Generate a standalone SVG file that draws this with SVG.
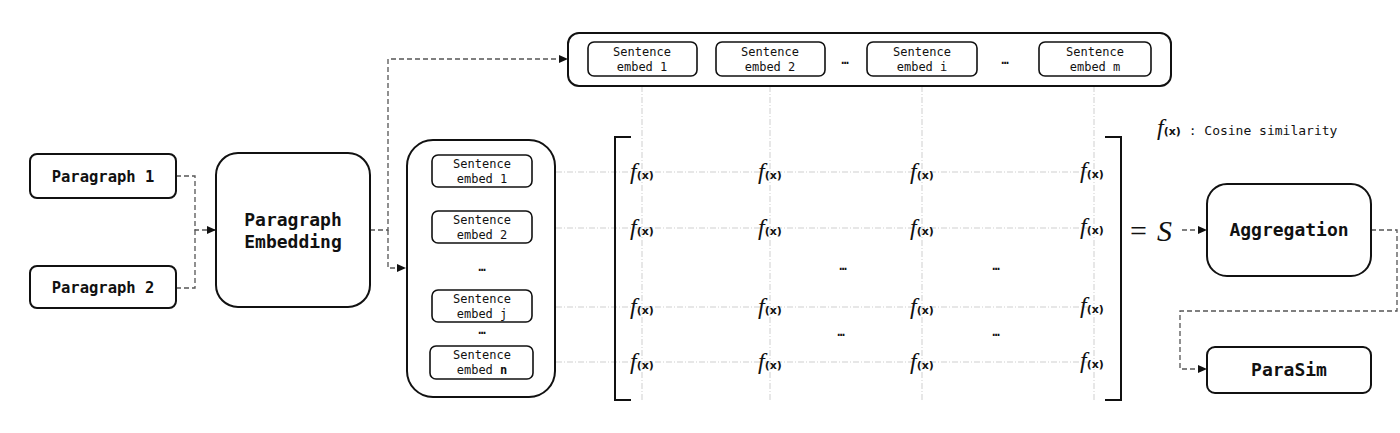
<svg xmlns="http://www.w3.org/2000/svg" width="1400" height="433" viewBox="0 0 1400 433">
<style>
.box{fill:#fff;stroke:#111;stroke-width:2}
.ibox{fill:#fff;stroke:#111;stroke-width:1.6}
.big{font-family:"DejaVu Sans Mono",monospace;font-weight:bold;font-size:18px;fill:#111;text-anchor:middle}
.mid{font-family:"DejaVu Sans Mono",monospace;font-weight:bold;font-size:15.5px;fill:#111;text-anchor:middle}
.sm{font-family:"DejaVu Sans Mono",monospace;font-size:12px;fill:#111;text-anchor:middle}
.dots{font-family:"DejaVu Sans Mono",monospace;font-size:12px;fill:#111;text-anchor:middle;font-weight:bold}
.conn{fill:none;stroke:#555;stroke-width:1.3;stroke-dasharray:5 3}
.grid{fill:none;stroke:#cfcfcf;stroke-width:1;stroke-dasharray:6 2 1 2}
.fi{font-family:"Liberation Serif",serif;font-style:italic;font-size:24px;fill:#111}
.fx{font-family:"DejaVu Sans",sans-serif;font-weight:bold;font-size:11px;fill:#111}
.fm{text-anchor:middle}
.brk{fill:none;stroke:#111;stroke-width:2}
.leg{font-family:"DejaVu Sans Mono",monospace;font-size:13px;fill:#111}
.math{font-family:"Liberation Serif",serif;font-size:30px;fill:#111}
</style>
<defs>
<marker id="arr" markerWidth="10" markerHeight="10" refX="9" refY="5" orient="auto" markerUnits="userSpaceOnUse">
<path d="M0,1 L9,5 L0,9 Z" fill="#111"/>
</marker>
</defs>

<g id="grid">
<path class="grid" d="M556,172 H1094 M556,228 H1094 M556,307 H1094 M556,362 H1094"/>
<path class="grid" d="M642,86 V400 M770,86 V400 M922,86 V400 M1094,86 V400"/>
</g>

<g id="connectors">
<path class="conn" d="M176,176 H195 V230 H216" marker-end="url(#arr)"/>
<path class="conn" d="M176,288 H195 V230"/>
<path class="conn" d="M370,230 H388 V59 H568" marker-end="url(#arr)"/>
<path class="conn" d="M388,230 V268 H406" marker-end="url(#arr)"/>
<path class="conn" d="M1182,230 H1207" marker-end="url(#arr)"/>
<path class="conn" d="M1371,230 H1397 V311 H1180 V369 H1207" marker-end="url(#arr)"/>
</g>

<g id="paragraph1">
<rect class="box" x="30" y="154" width="146" height="44" rx="7"/>
<text class="mid" x="103" y="182">Paragraph 1</text>
</g>
<g id="paragraph2">
<rect class="box" x="30" y="266" width="146" height="42" rx="7"/>
<text class="mid" x="103" y="293">Paragraph 2</text>
</g>
<g id="paragraph-embedding">
<rect class="box" x="216" y="153" width="154" height="154" rx="22"/>
<text class="big" x="293" y="226">Paragraph</text>
<text class="big" x="293" y="248">Embedding</text>
</g>

<g id="sentences-j">
<rect class="box" x="407" y="140" width="148" height="257" rx="26"/>
<g id="sj1"><rect class="ibox" x="432" y="155" width="100" height="32" rx="6"/>
<text class="sm" x="482" y="168">Sentence</text><text class="sm" x="482" y="183">embed 1</text></g>
<g id="sj2"><rect class="ibox" x="432" y="211" width="100" height="32" rx="6"/>
<text class="sm" x="482" y="224">Sentence</text><text class="sm" x="482" y="239">embed 2</text></g>
<text class="dots" x="482" y="271">…</text>
<g id="sjj"><rect class="ibox" x="432" y="290" width="100" height="32" rx="6"/>
<text class="sm" x="482" y="303">Sentence</text><text class="sm" x="482" y="318">embed j</text></g>
<text class="dots" x="482" y="334">…</text>
<g id="sjn"><rect class="ibox" x="430" y="346" width="103" height="33" rx="6"/>
<text class="sm" x="482" y="359">Sentence</text><text class="sm" x="482" y="374">embed <tspan font-weight="bold">n</tspan></text></g>
</g>

<g id="sentences-i">
<rect class="box" x="568" y="33" width="603" height="53" rx="11"/>
<g id="si1"><rect class="ibox" x="588" y="42" width="109" height="34" rx="6"/>
<text class="sm" x="642" y="56">Sentence</text><text class="sm" x="642" y="71">embed 1</text></g>
<g id="si2"><rect class="ibox" x="716" y="42" width="109" height="34" rx="6"/>
<text class="sm" x="770" y="56">Sentence</text><text class="sm" x="770" y="71">embed 2</text></g>
<text class="dots" x="845" y="64">…</text>
<g id="sii"><rect class="ibox" x="867" y="42" width="110" height="34" rx="6"/>
<text class="sm" x="922" y="56">Sentence</text><text class="sm" x="922" y="71">embed i</text></g>
<text class="dots" x="1005" y="64">…</text>
<g id="sim"><rect class="ibox" x="1039" y="42" width="112" height="34" rx="6"/>
<text class="sm" x="1095" y="56">Sentence</text><text class="sm" x="1095" y="71">embed m</text></g>
</g>

<g id="matrix">
<path class="brk" d="M631,137 H615 V400 H631"/>
<path class="brk" d="M1105,137 H1121 V400 H1105"/>
<g id="cells">
<text class="fm" x="642" y="179"><tspan class="fi">f</tspan><tspan class="fx">(x)</tspan></text>
<text class="fm" x="770" y="179"><tspan class="fi">f</tspan><tspan class="fx">(x)</tspan></text>
<text class="fm" x="922" y="179"><tspan class="fi">f</tspan><tspan class="fx">(x)</tspan></text>
<text class="fm" x="1092" y="178"><tspan class="fi">f</tspan><tspan class="fx">(x)</tspan></text>
<text class="fm" x="642" y="235"><tspan class="fi">f</tspan><tspan class="fx">(x)</tspan></text>
<text class="fm" x="770" y="235"><tspan class="fi">f</tspan><tspan class="fx">(x)</tspan></text>
<text class="fm" x="922" y="235"><tspan class="fi">f</tspan><tspan class="fx">(x)</tspan></text>
<text class="fm" x="1092" y="234"><tspan class="fi">f</tspan><tspan class="fx">(x)</tspan></text>
<text class="fm" x="642" y="314"><tspan class="fi">f</tspan><tspan class="fx">(x)</tspan></text>
<text class="fm" x="770" y="314"><tspan class="fi">f</tspan><tspan class="fx">(x)</tspan></text>
<text class="fm" x="922" y="314"><tspan class="fi">f</tspan><tspan class="fx">(x)</tspan></text>
<text class="fm" x="1092" y="313"><tspan class="fi">f</tspan><tspan class="fx">(x)</tspan></text>
<text class="fm" x="642" y="369"><tspan class="fi">f</tspan><tspan class="fx">(x)</tspan></text>
<text class="fm" x="770" y="369"><tspan class="fi">f</tspan><tspan class="fx">(x)</tspan></text>
<text class="fm" x="922" y="369"><tspan class="fi">f</tspan><tspan class="fx">(x)</tspan></text>
<text class="fm" x="1092" y="368"><tspan class="fi">f</tspan><tspan class="fx">(x)</tspan></text>
</g>
<text class="dots" x="843" y="270">…</text>
<text class="dots" x="996" y="270">…</text>
<text class="dots" x="841" y="336">…</text>
<text class="dots" x="996" y="336">…</text>
</g>

<g id="legend">
<text x="1157" y="135"><tspan class="fi" font-size="20px">f</tspan><tspan class="fx" font-size="9px">(x)</tspan><tspan class="leg"> : Cosine similarity</tspan></text>
</g>

<g id="result-s">
<text class="math" x="1130" y="241" font-size="36px">=</text>
<text class="math" x="1157" y="241" font-style="italic" font-size="32px">S</text>
</g>

<g id="aggregation">
<rect class="box" x="1207" y="184" width="164" height="92" rx="20"/>
<text class="big" x="1289" y="236">Aggregation</text>
</g>
<g id="parasim">
<rect class="box" x="1207" y="347" width="164" height="46" rx="8"/>
<text class="big" x="1289" y="376">ParaSim</text>
</g>
</svg>
